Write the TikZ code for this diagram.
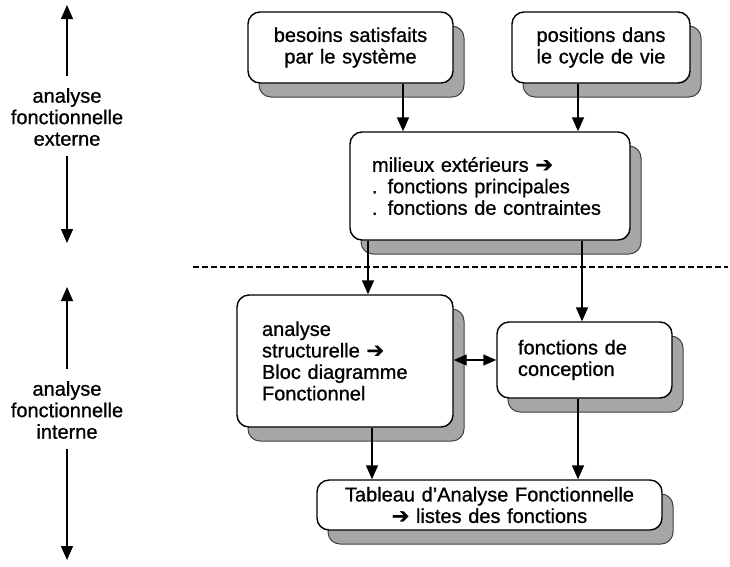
\documentclass[tikz,border=0pt]{standalone}
\usepackage{fontspec}
\setmainfont{Liberation Sans}[FakeBold=0.9]
\newfontfamily\symfont{DejaVu Sans}[FakeBold=0.9]
\usetikzlibrary{arrows.meta,shadows}
\newcommand{\rarr}{{\symfont\fontsize{21}{21.5}\selectfont\char"2794}}
\begin{document}
\begin{tikzpicture}[x=1pt,y=-1pt,
  every node/.style={font=\fontsize{20}{21.5}\selectfont},
  box/.style={draw, line width=1.4pt, rounded corners=12pt, fill=white,
    copy shadow={shadow xshift=11pt, shadow yshift=-14pt,
      fill=black!35, draw=black!75, line width=1pt},
    inner ysep=0pt},
  arr/.style={line width=1.4pt, -{Triangle[length=14pt,width=12pt]}},
  dblarr/.style={line width=1.4pt, {Triangle[length=13pt,width=11pt]}-{Triangle[length=13pt,width=11pt]}},
  lbl/.style={align=center, inner sep=0pt}
]
\useasboundingbox (0,0) rectangle (730,566);

% external analysis boxes
\node[box, minimum width=205, minimum height=71, inner xsep=8pt, text width=189, align=center]
  (besoins) at (350.5,47.5) {besoins satisfaits\\par le système};
\node[box, minimum width=178, minimum height=71, inner xsep=8pt, text width=162, align=center]
  (cycle) at (601,47.5) {positions dans\\le cycle de vie};
\node[box, minimum width=280, minimum height=108, inner xsep=22pt, text width=236, align=left]
  (milieux) at (490,186) {milieux extérieurs \rarr\\. fonctions principales\\. fonctions de contraintes};

% internal analysis boxes
\node[box, minimum width=216, minimum height=132, inner xsep=25pt, text width=166, align=left]
  (struct) at (345,361) {analyse\\structurelle \rarr\\Bloc diagramme\\Fonctionnel};
\node[box, minimum width=175, minimum height=76, inner xsep=21pt, text width=133, align=left]
  (concep) at (584.5,360) {fonctions de\\conception};
\node[box, minimum width=345, minimum height=50, inner xsep=8pt, text width=329, align=center]
  (tableau) at (489.5,505) {Tableau d’Analyse Fonctionnelle\\\rarr{} listes des fonctions};

% connector columns
\coordinate (cA) at (403,0);
\coordinate (cB) at (578,0);
\coordinate (cC) at (368,0);
\coordinate (cD) at (582,0);
\coordinate (cE) at (372,0);
\coordinate (cF) at (578,0);
\coordinate (rowH) at (0,360);

\draw[arr] (besoins.south -| cA) -- (milieux.north -| cA);
\draw[arr] (cycle.south -| cB) -- (milieux.north -| cB);
\draw[arr] (milieux.south -| cC) -- (struct.north -| cC);
\draw[arr] (milieux.south -| cD) -- (concep.north -| cD);
\draw[arr] (struct.south -| cE) -- (tableau.north -| cE);
\draw[arr] (concep.south -| cF) -- (tableau.north -| cF);
\draw[dblarr] (struct.east |- rowH) -- (concep.west |- rowH);

% separation between external and internal analysis
\coordinate (sepL) at (193,267);
\coordinate (sepR) at (728,267);
\draw[line width=1.2pt, dash pattern=on 6pt off 3pt] (sepL) -- (sepR);

% side labels with their extent arrows
\node[lbl] (ext) at (67,117) {analyse\\fonctionnelle\\externe};
\coordinate (extTop) at (67,5);
\coordinate (extBot) at (67,243);
\draw[arr] ([yshift=12pt]ext.north) -- (extTop);
\draw[arr] ([yshift=-10pt]ext.south) -- (extBot);

\node[lbl] (int) at (67,410) {analyse\\fonctionnelle\\interne};
\coordinate (intTop) at (67,287);
\coordinate (intBot) at (67,560);
\draw[arr] ([yshift=12pt]int.north) -- (intTop);
\draw[arr] ([yshift=-10pt]int.south) -- (intBot);
\end{tikzpicture}
\end{document}
